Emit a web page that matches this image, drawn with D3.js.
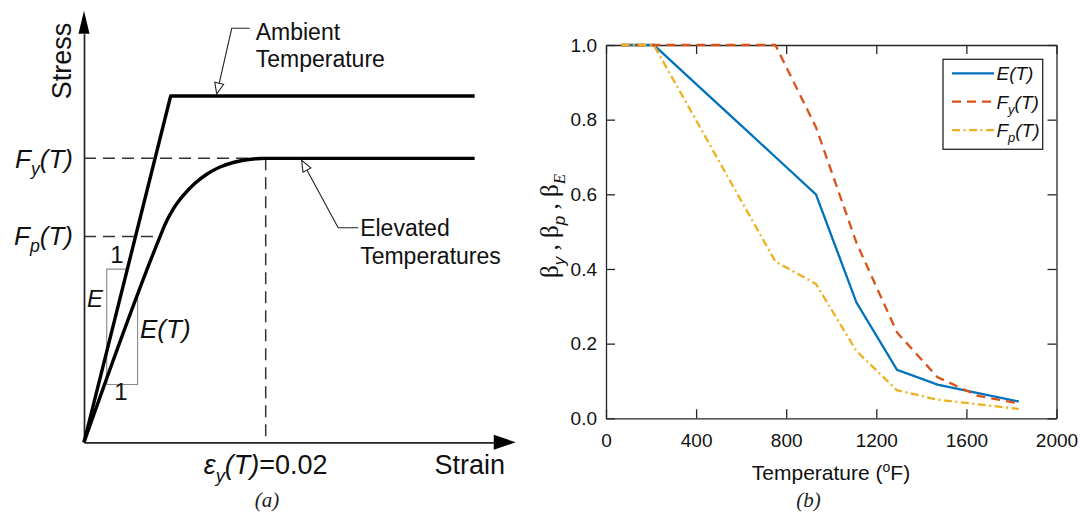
<!DOCTYPE html>
<html>
<head>
<meta charset="utf-8">
<script src="https://cdn.jsdelivr.net/npm/d3@7"></script>
<style>
  html, body { margin: 0; padding: 0; background: #fff; }
  svg { display: block; }
</style>
</head>
<body>
<svg id="fig" width="1080" height="515"></svg>
<script>
// ---- panel (a): schematic stress-strain ----
const strainAmbient = [0, 0.00954, 0.043];
const stressAmbient = [0, 1, 1];
const strainElevated = [0, 0.00837, 0.00892, 0.00983, 0.01093, 0.01222, 0.01351, 0.01497, 0.01643, 0.01791, 0.01937, 0.02, 0.043];
const stressElevated = [0, 0.594, 0.629, 0.674, 0.713, 0.748, 0.774, 0.795, 0.808, 0.816, 0.8195, 0.82, 0.82];
const fyT = 0.82;
const fpT = 0.594;
const epsY = 0.02;

// ---- panel (b): retention factors ----
const temps = [68, 212, 392, 572, 752, 932, 1112, 1292, 1472, 1652, 1832];
const betaE = [1, 1, 0.9, 0.8, 0.7, 0.6, 0.31, 0.13, 0.09, 0.0675, 0.045];
const betaY = [1, 1, 1, 1, 1, 0.78, 0.47, 0.23, 0.11, 0.06, 0.04];
const betaP = [1, 1, 0.807, 0.613, 0.42, 0.36, 0.18, 0.075, 0.05, 0.0375, 0.025];
const xTicks = [0, 400, 800, 1200, 1600, 2000];
const yTicks = [0, 0.2, 0.4, 0.6, 0.8, 1.0];

const sans = 'Liberation Sans, Arial, sans-serif';
const serif = 'Liberation Serif, Times New Roman, serif';

const svg = d3.select('#fig');

// helper: text made of parts, some subscripted
function richText(g, x, y, parts, opts) {
  const t = g.append('text')
    .attr('x', x).attr('y', y)
    .attr('font-family', opts.family || sans)
    .attr('font-size', opts.size)
    .attr('font-style', opts.italic ? 'italic' : null)
    .attr('text-anchor', opts.anchor || 'start')
    .attr('fill', opts.fill || '#111');
  if (opts.transform) t.attr('transform', opts.transform);
  let shift = 0;
  parts.forEach(p => {
    const s = t.append('tspan').text(p.t);
    const want = p.sub ? opts.size * 0.28 : 0;
    if (want !== shift) { s.attr('dy', want - shift); shift = want; }
    if (p.sub) s.attr('font-size', opts.size * 0.68);
    if (p.family) s.attr('font-family', p.family);
    if (p.italic !== undefined) s.attr('font-style', p.italic ? 'italic' : 'normal');
  });
  return t;
}

// ================= panel (a) =================
const xA = d3.scaleLinear().domain([0, epsY]).range([84, 265.7]);
const yA = d3.scaleLinear().domain([0, 1]).range([442.3, 96]);
const gA = svg.append('g');

// axes (no ticks) + arrowheads
const xAxisEnd = 0.0451, yAxisEnd = 1.18;
gA.append('g')
  .attr('transform', `translate(0,${yA(0)})`)
  .call(d3.axisBottom(d3.scaleLinear().domain([0, xAxisEnd]).range([xA(0), xA(xAxisEnd)])).tickValues([]).tickSizeOuter(0))
  .call(g => g.select('.domain').attr('stroke', '#222').attr('stroke-width', 1.7));
gA.append('g')
  .attr('transform', `translate(${xA(0)},0)`)
  .call(d3.axisLeft(d3.scaleLinear().domain([0, yAxisEnd]).range([yA(0), yA(yAxisEnd)])).tickValues([]).tickSizeOuter(0))
  .call(g => g.select('.domain').attr('stroke', '#222').attr('stroke-width', 1.7));
gA.append('path')
  .attr('d', `M${xA(xAxisEnd)},${yA(0) - 7.5}L${xA(xAxisEnd) + 22},${yA(0)}L${xA(xAxisEnd)},${yA(0) + 7.5}Z`)
  .attr('fill', '#000');
gA.append('path')
  .attr('d', `M${xA(0) - 5.5},${yA(yAxisEnd)}L${xA(0)},${yA(yAxisEnd) - 23}L${xA(0) + 5.5},${yA(yAxisEnd)}Z`)
  .attr('fill', '#000');

// dashed reference lines
const dashStyle = g => g.attr('stroke', '#333').attr('stroke-width', 1.5).attr('stroke-dasharray', '12,7').attr('fill', 'none');
gA.append('line').attr('x1', xA(0)).attr('x2', xA(epsY)).attr('y1', yA(fyT)).attr('y2', yA(fyT)).call(dashStyle);
gA.append('line').attr('x1', xA(0)).attr('x2', xA(strainElevated[1])).attr('y1', yA(fpT)).attr('y2', yA(fpT)).call(dashStyle);
gA.append('line').attr('x1', xA(epsY)).attr('x2', xA(epsY)).attr('y1', yA(fyT)).attr('y2', yA(0)).call(dashStyle);

// slope triangles
const ambLine = d3.scaleLinear().domain([0, strainAmbient[1]]).range([0, 1]);
const elvLine = d3.scaleLinear().domain([0, strainElevated[1]]).range([0, fpT]);
const triTop = 0.5, triBottom = 0.167, triLeft = 0.0025, triRight = 0.0059;
const triPts = [
  [ambLine.invert(triTop), triTop], [triLeft, triTop], [triLeft, triBottom],
  [triRight, triBottom], [triRight, elvLine(triRight)]
];
gA.append('path')
  .attr('d', d3.line().x(d => xA(d[0])).y(d => yA(d[1]))(triPts))
  .attr('fill', 'none').attr('stroke', '#8a8a8a').attr('stroke-width', 1.1);

// stress-strain curves
const lineA = d3.line().x(d => xA(d[0])).y(d => yA(d[1]));
gA.append('path')
  .attr('d', lineA(strainAmbient.map((s, i) => [s, stressAmbient[i]])))
  .attr('fill', 'none').attr('stroke', '#000').attr('stroke-width', 3.4).attr('stroke-linejoin', 'round');
gA.append('path')
  .attr('d', lineA.curve(d3.curveMonotoneX)(strainElevated.map((s, i) => [s, stressElevated[i]])))
  .attr('fill', 'none').attr('stroke', '#000').attr('stroke-width', 3.4).attr('stroke-linejoin', 'round');

// annotation leaders with open arrowheads
function leader(tip, knee, end) {
  const dx = knee[0] - tip[0], dy = knee[1] - tip[1];
  const len = Math.hypot(dx, dy), ux = dx / len, uy = dy / len;
  const bx = tip[0] + ux * 11, by = tip[1] + uy * 11;
  gA.append('path')
    .attr('d', `M${end[0]},${end[1]}L${knee[0]},${knee[1]}L${bx},${by}`)
    .attr('fill', 'none').attr('stroke', '#222').attr('stroke-width', 1.1);
  gA.append('path')
    .attr('d', `M${tip[0]},${tip[1]}L${bx - uy * 4.5},${by + ux * 4.5}L${bx + uy * 4.5},${by - ux * 4.5}Z`)
    .attr('fill', '#fff').attr('stroke', '#222').attr('stroke-width', 1.1);
}
const tipAmb = [xA(0.01461), yA(1) - 2];
leader(tipAmb, [tipAmb[0] + 15, 28.3], [tipAmb[0] + 33, 28.3]);
const tipElv = [xA(0.02396), yA(fyT) + 2];
leader(tipElv, [tipElv[0] + 36.5, 227.7], [tipElv[0] + 56.5, 227.7]);

const annot = (x, y, s) => gA.append('text').attr('x', x).attr('y', y)
  .attr('font-family', sans).attr('font-size', 23).attr('fill', '#111').text(s);
annot(tipAmb[0] + 39, 39.5, 'Ambient');
annot(tipAmb[0] + 39, 67, 'Temperature');
annot(tipElv[0] + 58.5, 235.5, 'Elevated');
annot(tipElv[0] + 58.5, 263.5, 'Temperatures');

// axis titles and labels
gA.append('text').attr('transform', `translate(71,61) rotate(-90)`)
  .attr('text-anchor', 'middle').attr('font-family', sans).attr('font-size', 27).attr('fill', '#111').text('Stress');
gA.append('text').attr('x', 505).attr('y', 474).attr('text-anchor', 'end')
  .attr('font-family', sans).attr('font-size', 27).attr('fill', '#111').text('Strain');
richText(gA, 73, yA(fyT) + 9.5, [{ t: 'F' }, { t: 'y', sub: true }, { t: '(T)' }], { size: 26, italic: true, anchor: 'end' });
richText(gA, 73, yA(fpT) + 8.5, [{ t: 'F' }, { t: 'p', sub: true }, { t: '(T)' }], { size: 26, italic: true, anchor: 'end' });
richText(gA, xA(epsY), 474, [{ t: 'ε' }, { t: 'y', sub: true }, { t: '(T)' }, { t: '=0.02', italic: false }], { size: 27, italic: true, anchor: 'middle' });
gA.append('text').attr('x', 117).attr('y', 263).attr('text-anchor', 'middle')
  .attr('font-family', sans).attr('font-size', 24).attr('fill', '#111').text('1');
gA.append('text').attr('x', 121).attr('y', 400).attr('text-anchor', 'middle')
  .attr('font-family', sans).attr('font-size', 24).attr('fill', '#111').text('1');
gA.append('text').attr('x', 87).attr('y', 307).attr('font-style', 'italic')
  .attr('font-family', sans).attr('font-size', 24).attr('fill', '#111').text('E');
gA.append('text').attr('x', 140).attr('y', 338).attr('font-style', 'italic')
  .attr('font-family', sans).attr('font-size', 26).attr('fill', '#111').text('E(T)');
gA.append('text').attr('x', 267).attr('y', 507).attr('text-anchor', 'middle').attr('font-style', 'italic')
  .attr('font-family', serif).attr('font-size', 21).attr('fill', '#222').text('(a)');

// ================= panel (b) =================
const xB = d3.scaleLinear().domain([0, 2000]).range([606, 1056.5]);
const yB = d3.scaleLinear().domain([0, 1]).range([418.3, 45]);
const gB = svg.append('g');
const axColor = '#262626';

function styleAxis(g) {
  g.attr('font-family', sans).attr('font-size', 19);
  g.select('.domain').attr('stroke', axColor).attr('stroke-width', 1.3);
  g.selectAll('.tick line').attr('stroke', axColor).attr('stroke-width', 1.3);
  g.selectAll('.tick text').attr('fill', '#111');
}
gB.append('g').attr('transform', `translate(0,${yB(0)})`)
  .call(d3.axisBottom(xB).tickValues(xTicks).tickFormat(d3.format('d')).tickSizeInner(-9).tickSizeOuter(0).tickPadding(15))
  .call(styleAxis);
gB.append('g').attr('transform', `translate(0,${yB(1)})`)
  .call(d3.axisTop(xB).tickValues(xTicks).tickFormat('').tickSizeInner(-9).tickSizeOuter(0))
  .call(styleAxis);
gB.append('g').attr('transform', `translate(${xB(0)},0)`)
  .call(d3.axisLeft(yB).tickValues(yTicks).tickFormat(d3.format('.1f')).tickSizeInner(-9).tickSizeOuter(0).tickPadding(9))
  .call(styleAxis);
gB.append('g').attr('transform', `translate(${xB(2000)},0)`)
  .call(d3.axisRight(yB).tickValues(yTicks).tickFormat('').tickSizeInner(-9).tickSizeOuter(0))
  .call(styleAxis);

const series = [
  { name: 'E', sub: null, values: betaE, color: '#0072BD', dash: null },
  { name: 'F', sub: 'y', values: betaY, color: '#D95319', dash: '9,6' },
  { name: 'F', sub: 'p', values: betaP, color: '#EDB120', dash: '8,3.5,2,3.5' }
];
const lineB = d3.line().x(d => xB(d[0])).y(d => yB(d[1]));
series.forEach(s => {
  gB.append('path')
    .attr('d', lineB(temps.map((t, i) => [t, s.values[i]])))
    .attr('fill', 'none').attr('stroke', s.color).attr('stroke-width', 2.3)
    .attr('stroke-dasharray', s.dash);
});

// legend
const leg = gB.append('g');
leg.append('rect').attr('x', 943).attr('y', 59.3).attr('width', 99.7).attr('height', 90)
  .attr('fill', '#fff').attr('stroke', axColor).attr('stroke-width', 1.3);
series.forEach((s, i) => {
  const cy = 73.3 + i * 28.4;
  leg.append('line').attr('x1', 952).attr('x2', 994).attr('y1', cy).attr('y2', cy)
    .attr('stroke', s.color).attr('stroke-width', 2.3).attr('stroke-dasharray', s.dash);
  const parts = [{ t: s.name }];
  if (s.sub) parts.push({ t: s.sub, sub: true });
  parts.push({ t: '(T)' });
  richText(leg, 996.5, cy + 7, parts, { size: 19, italic: true });
});

// axis titles
const xt = gB.append('text').attr('x', 831).attr('y', 480).attr('text-anchor', 'middle')
  .attr('font-family', sans).attr('font-size', 21).attr('fill', '#111');
xt.append('tspan').text('Temperature (');
xt.append('tspan').attr('dy', -8).attr('font-size', 14).text('o');
xt.append('tspan').attr('dy', 8).text('F)');

richText(gB, 0, 0, [
  { t: 'β' }, { t: 'y', sub: true, family: sans, italic: true },
  { t: ' , β' }, { t: 'p', sub: true, family: sans, italic: true },
  { t: ' , β' }, { t: 'E', sub: true, italic: true }
], { size: 25, family: serif, anchor: 'middle', transform: 'translate(558,226) rotate(-90)' });

gB.append('text').attr('x', 808.6).attr('y', 507).attr('text-anchor', 'middle').attr('font-style', 'italic')
  .attr('font-family', serif).attr('font-size', 21).attr('fill', '#222').text('(b)');
</script>
</body>
</html>
